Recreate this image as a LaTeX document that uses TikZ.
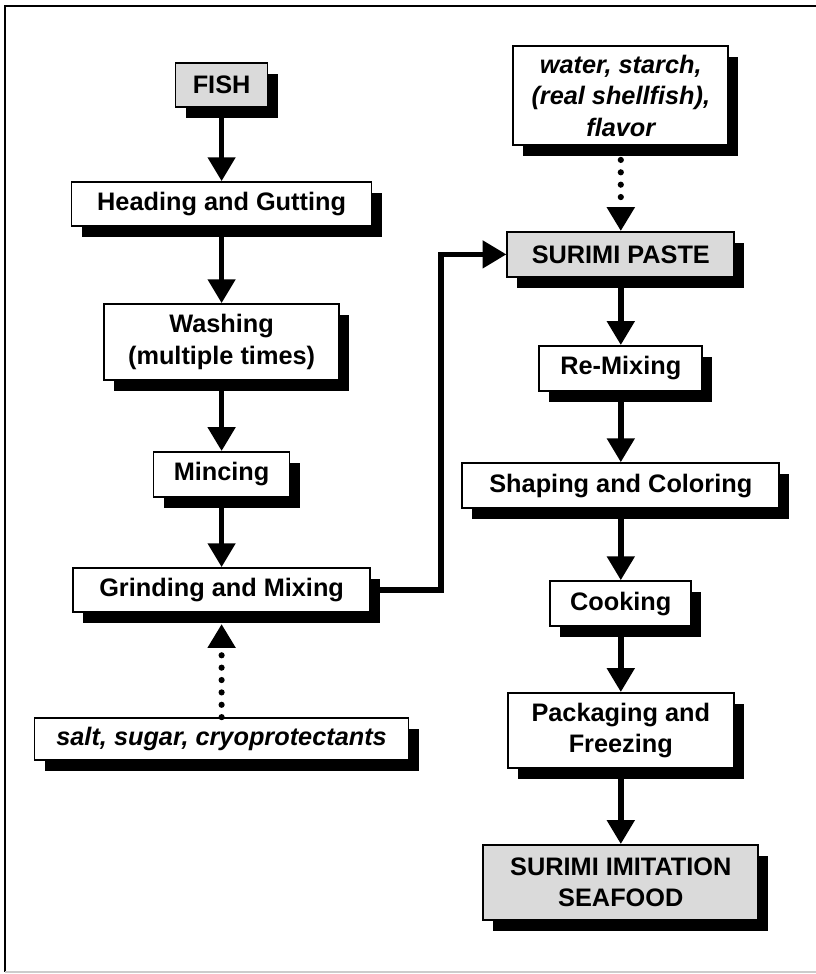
\documentclass[tikz,border=0pt]{standalone}
\usepackage{fontspec}
\setmainfont{Liberation Sans}
\usetikzlibrary{arrows.meta, shadows, positioning}
\definecolor{pastegray}{RGB}{218,218,218}

\tikzset{
  stepbox/.style={draw=black, line width=1.2pt, fill=white, inner sep=2pt, align=center,
    font=\fontsize{18}{22.5}\selectfont\bfseries,
    drop shadow={shadow xshift=0.25cm, shadow yshift=-0.28cm, fill=black, opacity=1}},
  keybox/.style={stepbox, fill=pastegray},
  addbox/.style={stepbox, font=\fontsize{18}{22.5}\selectfont\bfseries\itshape},
  flow/.style={line width=4pt, -{Triangle[width=19pt,length=17pt]}},
  feed/.style={line width=4.4pt, line cap=round, dash pattern=on 0pt off 8.8pt,
    -{Triangle[width=19pt,length=17pt]}},
}

\begin{document}
\begin{tikzpicture}
    \useasboundingbox (0,0) rectangle (20.4,24.35);

    % Page frame (runs off on the right)
    \draw[line width=1.1pt] (20.4,24.2) -- (0.125,24.2) -- (0.125,0.05);
    \draw[gray!40, line width=0.8pt] (0.125,0.05) -- (20.4,0.05);

    % ==== Left column: fish to paste ====
    \node[keybox, minimum width=2.3cm, minimum height=1.1cm] (fish) at (5.54, 22.225) {FISH};
    \node[stepbox, minimum width=7.5cm, minimum height=1.1cm] (heading) at (5.54, 19.25) {Heading and Gutting};
    \node[stepbox, minimum width=5.875cm, minimum height=1.9cm] (washing) at (5.54, 15.8) {Washing\\(multiple times)};
    \node[stepbox, minimum width=3.4cm, minimum height=1.125cm] (mincing) at (5.54, 12.49) {Mincing};
    \node[stepbox, minimum width=7.425cm, minimum height=1.1cm] (grinding) at (5.54, 9.6) {Grinding and Mixing};
    \node[addbox, minimum width=9.35cm, minimum height=1.05cm] (salt) at (5.54, 5.875) {salt, sugar, cryoprotectants};

    % ==== Right column: paste to product ====
    \node[addbox, minimum width=5.375cm, minimum height=2.475cm] (water) at (15.52, 21.96) {water, starch,\\(real shellfish),\\flavor};
    \node[keybox, minimum width=5.675cm, minimum height=1.125cm] (paste) at (15.52, 17.99) {SURIMI PASTE};
    \node[stepbox, minimum width=4.075cm, minimum height=1.125cm] (remixing) at (15.52, 15.14) {Re-Mixing};
    \node[stepbox, minimum width=7.925cm, minimum height=1.125cm] (shaping) at (15.52, 12.21) {Shaping and Coloring};
    \node[stepbox, minimum width=3.525cm, minimum height=1.125cm] (cooking) at (15.52, 9.26) {Cooking};
    \node[stepbox, minimum width=5.65cm, minimum height=1.875cm] (packaging) at (15.52, 6.09) {Packaging and\\Freezing};
    \node[keybox, minimum width=6.875cm, minimum height=1.875cm] (product) at (15.52, 2.29) {SURIMI IMITATION\\SEAFOOD};

    % Process arrows
    \draw[flow] (fish.south) -- (heading.north);
    \draw[flow] (heading.south) -- (washing.north);
    \draw[flow] (washing.south) -- (mincing.north);
    \draw[flow] (mincing.south) -- (grinding.north);
    \draw[flow] (grinding.east) -- ++(1.75,0) |- (paste.west);
    \draw[flow] (paste.south) -- (remixing.north);
    \draw[flow] (remixing.south) -- (shaping.north);
    \draw[flow] (shaping.south) -- (cooking.north);
    \draw[flow] (cooking.south) -- (packaging.north);
    \draw[flow] (packaging.south) -- (product.north);

    % Added ingredients (dotted)
    \draw[feed] (salt.north) -- ([yshift=-0.28cm]grinding.south);
    \draw[feed] ([yshift=-0.35cm]water.south) -- (paste.north);
\end{tikzpicture}
\end{document}
